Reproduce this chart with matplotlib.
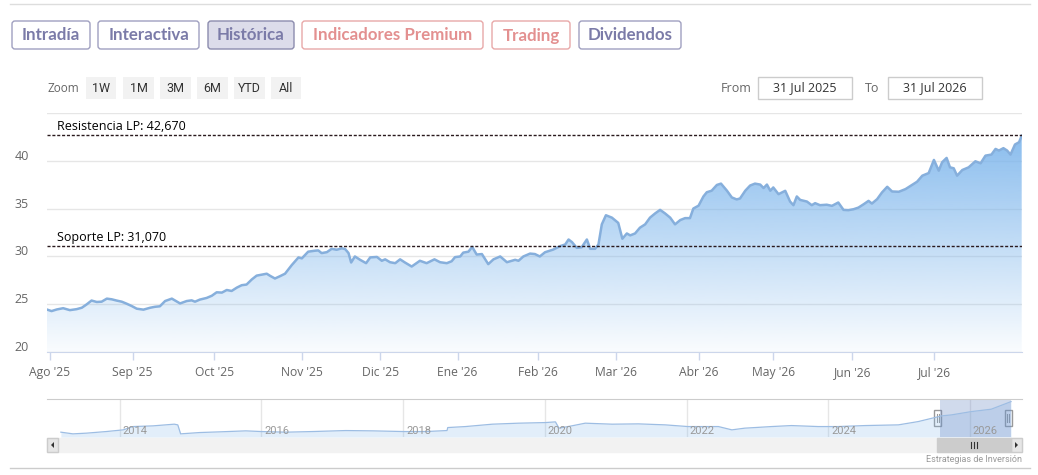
import numpy as np
import matplotlib
matplotlib.use("Agg")
import matplotlib.pyplot as plt
from matplotlib.patches import FancyBboxPatch, Rectangle, Polygon
from matplotlib.transforms import ScaledTranslation, blended_transform_factory

# ---- price data (x = trading session since 31 Jul 2025) ----
s_aug_oct = [0.0, 1.3, 2.7, 4.4, 6.2, 8.0, 9.4, 10.7, 12.0, 13.4, 14.7, 16.1, 17.4, 18.7, 20.1, 21.4,
             22.8, 24.1, 25.9, 27.7, 29.0, 30.3, 31.7, 33.5, 34.8, 35.7, 37.5, 38.8, 39.7, 41.0, 42.8,
             44.2, 45.5, 46.9, 48.2, 49.5, 50.9, 52.2, 53.5, 54.9, 56.2, 57.6, 58.9, 59.8, 61.1, 62.5, 63.8]
p_aug_oct = [24.47, 24.3, 24.47, 24.6, 24.4, 24.5, 24.65, 25.0, 25.4, 25.25, 25.28, 25.6, 25.53, 25.4, 25.28, 25.07,
             24.82, 24.55, 24.45, 24.65, 24.75, 24.8, 25.35, 25.6, 25.3, 25.1, 25.35, 25.42, 25.28, 25.5, 25.67,
             25.9, 26.26, 26.23, 26.5, 26.4, 26.75, 27.0, 27.07, 27.6, 28.0, 28.1, 28.2, 27.98, 27.7, 27.95, 28.2]

s_nov_jan = [65.6, 67.4, 68.3, 70.0, 71.8, 72.7, 73.6, 75.0, 76.3, 77.6, 79.0, 79.9, 80.8, 81.5, 82.5, 83.9,
             85.5, 86.6, 88.4, 89.7, 90.6, 91.9, 93.3, 94.6, 95.9, 97.7, 99.9, 101.7, 103.8, 105.3, 107.1,
             108.4, 109.3, 110.7, 111.5, 112.9, 113.9, 115.1, 116.5, 118.2, 119.6, 121.4, 123.2, 125.4,
             126.3, 127.6, 129.4, 130.7]
p_nov_jan = [29.1, 29.9, 29.8, 30.5, 30.6, 30.63, 30.35, 30.45, 30.8, 30.7, 30.85, 30.77, 30.35, 29.37, 30.0, 29.65,
             29.3, 29.9, 29.95, 29.55, 29.7, 29.4, 29.3, 29.7, 29.37, 28.95, 29.55, 29.3, 29.7, 29.4, 29.3,
             29.5, 29.93, 30.0, 30.4, 30.5, 31.0, 30.2, 30.25, 29.2, 29.7, 30.0, 29.4, 29.65,
             29.55, 30.0, 30.3, 30.25]

s_feb_apr = [132.0, 133.4, 135.6, 137.4, 138.8, 139.7, 140.6, 141.9, 143.2, 144.6, 145.5, 146.8, 147.7, 148.6,
             149.7, 151.3, 153.0, 154.1, 155.3, 156.2, 157.5, 158.8, 160.2, 161.5, 162.9, 164.2, 165.5, 166.9,
             168.2, 169.6, 170.9, 172.2, 173.1, 174.5, 175.8, 176.7, 178.0, 179.4, 180.5, 182.1, 183.4, 184.7,
             185.6, 187.0, 188.3, 189.6, 191.0, 191.9, 192.8, 193.7, 194.5, 195.9]
p_feb_apr = [30.0, 30.44, 30.72, 31.07, 31.25, 31.77, 31.5, 30.9, 30.96, 31.77, 30.8, 30.8, 31.25, 33.35,
             34.3, 34.05, 33.5, 31.85, 32.4, 32.2, 32.4, 33.0, 33.35, 34.05, 34.5, 34.86, 34.5, 34.05,
             33.35, 33.8, 34.0, 34.0, 35.0, 35.3, 36.26, 36.7, 36.86, 37.46, 37.6, 36.86, 36.16, 35.95,
             36.05, 36.86, 37.4, 37.6, 37.5, 37.14, 37.5, 36.86, 37.2, 36.5]

s_may_jul = [197.7, 199.0, 199.9, 200.8, 201.7, 203.5, 204.8, 205.7, 207.0, 208.8, 210.2, 211.9, 213.3, 214.6,
             216.0, 217.3, 218.7, 220.0, 220.9, 222.3, 223.6, 225.0, 226.3, 228.1, 229.9, 231.7, 233.0, 234.4,
             236.1, 237.5, 238.8, 239.7, 240.9, 241.8, 242.8, 243.7, 245.1, 246.8, 248.6, 250.0, 251.3, 252.9,
             254.0, 254.9, 256.1, 257.1, 258.0, 259.2, 260.3, 261.0]
p_may_jul = [36.85, 35.73, 35.35, 36.26, 35.9, 35.73, 35.35, 35.56, 35.35, 35.4, 35.28, 35.63, 34.86, 34.83,
             34.93, 35.1, 35.45, 35.8, 35.52, 35.98, 36.68, 37.27, 36.78, 36.75, 37.03, 37.48, 37.8, 38.43,
             38.7, 40.07, 38.95, 39.83, 40.28, 39.3, 39.2, 38.43, 39.02, 39.3, 39.93, 39.72, 40.52, 40.63,
             41.22, 41.05, 41.3, 41.05, 40.63, 41.68, 41.92, 42.6]

month_pos = [0.9, 23.0, 44.9, 68.3, 89.3, 110.0, 131.6, 152.3, 174.6, 194.5, 215.7, 237.6]
month_labels = ["Ago '25", "Sep '25", "Oct '25", "Nov '25", "Dic '25", "Ene '26",
                "Feb '26", "Mar '26", "Abr '26", "May '26", "Jun '26", "Jul '26"]

resistencia = 42.67
soporte = 31.07

# navigator (full history)
nav_years = [2013.17, 2013.34, 2013.53, 2013.81, 2014.05, 2014.19, 2014.47, 2014.77, 2014.82, 2014.86,
             2015.13, 2015.41, 2015.78, 2016.0, 2016.35, 2016.72, 2017.19, 2017.57, 2018.01, 2018.32,
             2018.62, 2018.63, 2018.88, 2019.26, 2019.63, 2020.01, 2020.15, 2020.2, 2020.38, 2020.57,
             2020.95, 2021.32, 2021.7, 2022.02, 2022.45, 2022.64, 2022.82, 2023.2, 2023.48, 2023.86,
             2024.14, 2024.52, 2024.99, 2025.27, 2025.6, 2025.74, 2026.02, 2026.3, 2026.58]
nav_values = [3.3, 1.1, 2.0, 4.1, 6.3, 10.6, 11.5, 13.7, 12.8, 1.1,
              2.8, 3.7, 5.0, 4.1, 3.3, 4.1, 5.4, 5.0, 4.1, 4.1,
              5.4, 9.3, 10.6, 13.7, 15.0, 15.8, 16.7, 8.5, 11.5, 15.0,
              13.7, 14.1, 12.8, 10.6, 10.6, 6.3, 8.5, 10.6, 11.9, 10.6,
              10.6, 11.9, 12.8, 17.1, 24.5, 25.8, 30.1, 33.2, 43.1]
nav_year_ticks = [2014, 2016, 2018, 2020, 2022, 2024, 2026]

sessions = np.array(s_aug_oct + s_nov_jan + s_feb_apr + s_may_jul)
prices = np.array(p_aug_oct + p_nov_jan + p_feb_apr + p_may_jul)

W, H = 1038, 475
fig = plt.figure(figsize=(W / 100, H / 100), dpi=100)
fig.patch.set_facecolor("white")

def box(l, t, r, b):
    return [l / W, 1 - b / H, (r - l) / W, (b - t) / H]

font = ["Open Sans", "DejaVu Sans"]
narrow = ["Liberation Sans Narrow", "Roboto", "DejaVu Sans"]

# ---- main chart ----
ax = fig.add_axes(box(46.7, 112.7, 1021.7, 352.3), zorder=2)
ax.set_xlim(0, 261)
ax.set_ylim(20, 45)

fill = ax.fill_between(sessions, prices, 20, color="none", lw=0)
grad = np.zeros((256, 1, 4))
grad[..., 0] = 124 / 255
grad[..., 1] = 181 / 255
grad[..., 2] = 236 / 255
grad[:, 0, 3] = np.linspace(0.98, 0.04, 256)
img = ax.imshow(grad, extent=[0, 261, 20, 45], aspect="auto", origin="upper", zorder=1)
img.set_clip_path(fill.get_paths()[0], transform=ax.transData)
ax.plot(sessions, prices, color="#86afdc", lw=1.8, zorder=3)

ax.axhline(resistencia, color="#2a1a1e", lw=1, ls=(0, (2.2, 1.3)), zorder=4)
ax.axhline(soporte, color="#2a1a1e", lw=1, ls=(0, (2.2, 1.3)), zorder=4)
tr = blended_transform_factory(ax.transAxes, ax.transData)
ax.text(0.0105, resistencia + 0.2, "Resistencia LP: 42,670", transform=tr, fontsize=9,
        family=font, color="#000000", va="bottom", zorder=5)
ax.text(0.0105, soporte + 0.2, "Soporte LP: 31,070", transform=tr, fontsize=9,
        family=font, color="#000000", va="bottom", zorder=5)

ax.set_yticks([20, 25, 30, 35, 40, 45])
ax.set_yticklabels(["20", "25", "30", "35", "40", ""])
ax.yaxis.grid(True, color="#e6e6e6", lw=1)
ax.set_axisbelow(True)
ax.tick_params(axis="y", length=0, pad=13, labelsize=9, labelcolor="#666666")
for lab in ax.get_yticklabels():
    lab.set_family(font)
    lab.set_transform(lab.get_transform() + ScaledTranslation(0, 0.06, fig.dpi_scale_trans))

ax.set_xticks(month_pos)
ax.set_xticklabels(month_labels)
ax.tick_params(axis="x", length=6, width=1, color="#ccd6eb", pad=4,
               labelsize=8.7, labelcolor="#666666")
for lab in ax.get_xticklabels():
    lab.set_family(font)
for side in ["top", "left", "right"]:
    ax.spines[side].set_visible(False)
ax.spines["bottom"].set_color("#ccd6eb")

# ---- navigator ----
nav = fig.add_axes(box(46.7, 399, 1021.7, 437), zorder=2)
nav.set_xlim(2012.97, 2026.73)
nav.set_ylim(-3, 46.5)
nav.fill_between(nav_years, nav_values, -3, color="#7cb5ec", alpha=0.22, lw=0)
nav.plot(nav_years, nav_values, color="#9dbde3", lw=0.9)
nav.axvspan(2025.58, 2026.58, color=(102 / 255, 133 / 255, 194 / 255), alpha=0.3, lw=0)
for yr in nav_year_ticks:
    nav.axvline(yr, color="#e6e6e6", lw=1, zorder=0)
    nav.text(yr + 0.04, -2.0, str(yr), fontsize=8, color="#999999", family=narrow, va="bottom")
nav.set_xticks([])
nav.set_yticks([])
for side in ["bottom", "left", "right"]:
    nav.spines[side].set_visible(False)
nav.spines["top"].set_color("#cccccc")
nav.patch.set_alpha(0)

# ---- UI overlay (pixel coordinates) ----
ui = fig.add_axes([0, 0, 1, 1], zorder=1)
ui.set_xlim(0, W)
ui.set_ylim(H, 0)
ui.axis("off")

ui.plot([10, 1030], [4, 4], color="#dddddd", lw=1)
ui.plot([10, 1030], [468, 468], color="#cccccc", lw=1)

purple, salmon = "#7b7ba8", "#e39090"
buttons = [("Intradía", 12, 90, purple, "#a0a0c0", "white"),
           ("Interactiva", 98, 199, purple, "#a0a0c0", "white"),
           ("Histórica", 208, 294, purple, "#8c8cae", "#dcdcea"),
           ("Indicadores Premium", 302, 483, salmon, "#e8a8a8", "white"),
           ("Trading", 492, 570, salmon, "#e8a8a8", "white"),
           ("Dividendos", 579, 681, purple, "#a0a0c0", "white")]
for txt, x0, x1, tc, ec, fc in buttons:
    ui.add_patch(FancyBboxPatch((x0, 21), x1 - x0, 28, boxstyle="round,pad=0,rounding_size=3",
                                fc=fc, ec=ec, lw=1))
    ui.text((x0 + x1) / 2, 35.5, txt, ha="center", va="center", fontsize=12.2,
            fontweight="bold", color=tc, family=["Lato", "DejaVu Sans"])

ui.text(47, 88, "Zoom", fontsize=8.5, color="#666666", va="center", family=font)
for txt, x0, x1 in [("1W", 86, 116), ("1M", 123, 154), ("3M", 160, 191),
                    ("6M", 197, 228), ("YTD", 234, 265), ("All", 271, 301)]:
    ui.add_patch(Rectangle((x0, 77), x1 - x0, 22, fc="#f2f2f2", ec="none"))
    ui.text((x0 + x1) / 2, 88, txt, ha="center", va="center", fontsize=9,
            color="#333333", family=narrow)

ui.text(721, 88, "From", fontsize=9, color="#666666", va="center", family=font)
ui.text(865, 88, "To", fontsize=9, color="#666666", va="center", family=font)
for txt, x0, x1 in [("31 Jul 2025", 758, 852), ("31 Jul 2026", 888, 982)]:
    ui.add_patch(Rectangle((x0, 77), x1 - x0, 22, fc="white", ec="#cccccc", lw=1))
    ui.text((x0 + x1) / 2, 88, txt, ha="center", va="center", fontsize=9,
            color="#333333", family=font)

# navigator handles
for hx in [937.5, 1008]:
    ui.add_patch(Rectangle((hx - 3.5, 410), 7, 16, fc="white", ec="#999999", lw=1, zorder=5))
    ui.plot([hx - 1, hx - 1], [414, 422], color="#999999", lw=0.8, zorder=6)
    ui.plot([hx + 1, hx + 1], [414, 422], color="#999999", lw=0.8, zorder=6)

# scrollbar
ui.add_patch(Rectangle((47, 438), 975, 14, fc="#f2f2f2", ec="#f2f2f2", lw=1))
ui.add_patch(Rectangle((47, 438), 11, 14, fc="#e6e6e6", ec="#cccccc", lw=1))
ui.add_patch(Rectangle((1011, 438), 11, 14, fc="#e6e6e6", ec="#cccccc", lw=1))
ui.add_patch(Polygon([[54, 442], [54, 448], [51, 445]], closed=True, fc="#333333", ec="none"))
ui.add_patch(Polygon([[1015, 442], [1015, 448], [1018, 445]], closed=True, fc="#333333", ec="none"))
ui.add_patch(Rectangle((937, 438), 74, 14, fc="#cccccc", ec="#cccccc", lw=1))
for gx in [971, 974, 977]:
    ui.plot([gx, gx], [442, 448], color="#333333", lw=0.8)

ui.text(1022, 460, "Estrategias de Inversión", ha="right", va="center", fontsize=6.5,
        color="#999999", family=narrow)

fig.savefig("out.png", dpi=100)
